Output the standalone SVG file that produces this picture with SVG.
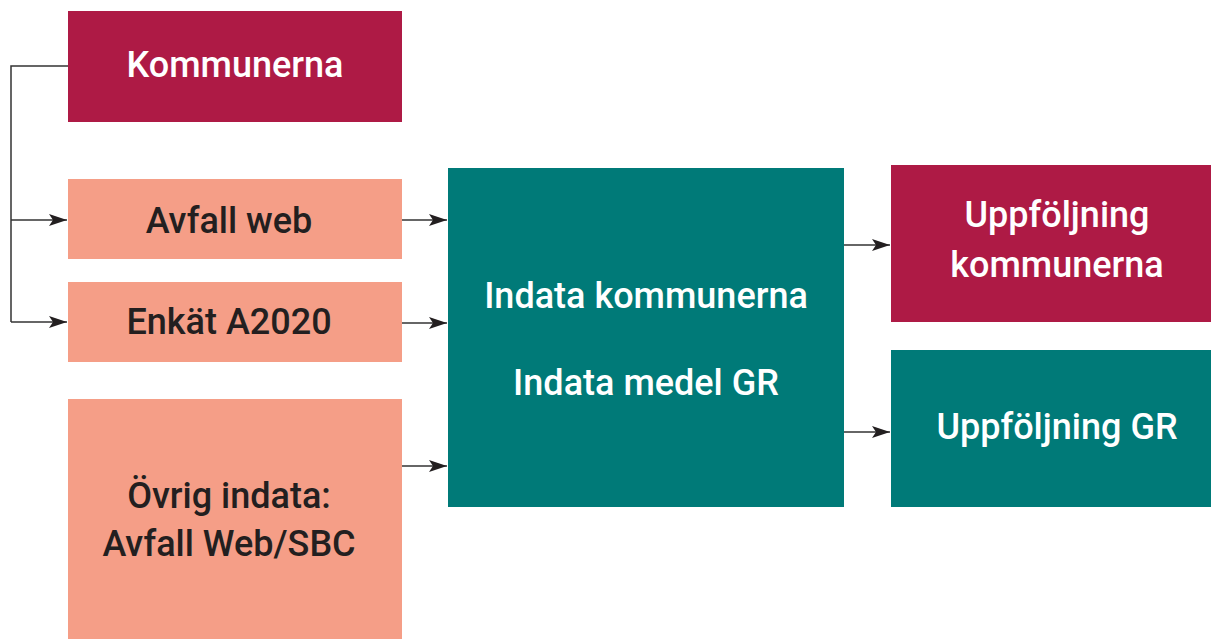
<svg xmlns="http://www.w3.org/2000/svg" width="1211" height="639" viewBox="0 0 1211 639">
<style>
.crim{fill:#AE1A45}
.sal{fill:#F59E87}
.teal{fill:#007A78}
text{font-family:Roboto,"Liberation Sans",sans-serif;font-weight:500;font-size:36px;text-anchor:middle}
.w{fill:#FFFFFF}
.d{fill:#231F20}
.c{fill:none;stroke:#333333;stroke-width:1.5}
</style>
<defs>
<marker id="ah" viewBox="0 0 18 12" refX="18" refY="6" markerWidth="18" markerHeight="12" markerUnits="userSpaceOnUse" orient="auto">
<path d="M0,0 L18,6 L0,12 L4,6 Z" fill="#231F20"/>
</marker>
</defs>
<rect width="1211" height="639" fill="#FFFFFF"/>
<g id="connectors">
<polyline class="c" points="68,66 11,66 11,322"/>
<line class="c" x1="11" y1="220" x2="67" y2="220" marker-end="url(#ah)"/>
<line class="c" x1="11" y1="322" x2="67" y2="322" marker-end="url(#ah)"/>
<line class="c" x1="402" y1="220" x2="447" y2="220" marker-end="url(#ah)"/>
<line class="c" x1="402" y1="323" x2="447" y2="323" marker-end="url(#ah)"/>
<line class="c" x1="402" y1="466" x2="447" y2="466" marker-end="url(#ah)"/>
<line class="c" x1="844" y1="245" x2="890" y2="245" marker-end="url(#ah)"/>
<line class="c" x1="844" y1="432" x2="890" y2="432" marker-end="url(#ah)"/>
</g>
<g id="kommunerna">
<rect class="crim" x="68" y="11" width="334" height="111"/>
<text class="w" x="235" y="77">Kommunerna</text>
</g>
<g id="avfall-web">
<rect class="sal" x="68" y="179" width="334" height="80"/>
<text class="d" x="229" y="233">Avfall web</text>
</g>
<g id="enkat">
<rect class="sal" x="68" y="282" width="334" height="80"/>
<text class="d" x="229" y="334">Enkät A2020</text>
</g>
<g id="ovrig">
<rect class="sal" x="68" y="399" width="334" height="240"/>
<text class="d" x="229" y="508">Övrig indata:</text>
<text class="d" x="229" y="556">Avfall Web/SBC</text>
</g>
<g id="indata">
<rect class="teal" x="448" y="168" width="396" height="339"/>
<text class="w" x="646" y="308">Indata kommunerna</text>
<text class="w" x="646" y="395">Indata medel GR</text>
</g>
<g id="uppfoljning-kommunerna">
<rect class="crim" x="891" y="165" width="320" height="157"/>
<text class="w" x="1057" y="227">Uppföljning</text>
<text class="w" x="1057" y="277">kommunerna</text>
</g>
<g id="uppfoljning-gr">
<rect class="teal" x="891" y="350" width="320" height="157"/>
<text class="w" x="1057" y="439">Uppföljning GR</text>
</g>
</svg>
